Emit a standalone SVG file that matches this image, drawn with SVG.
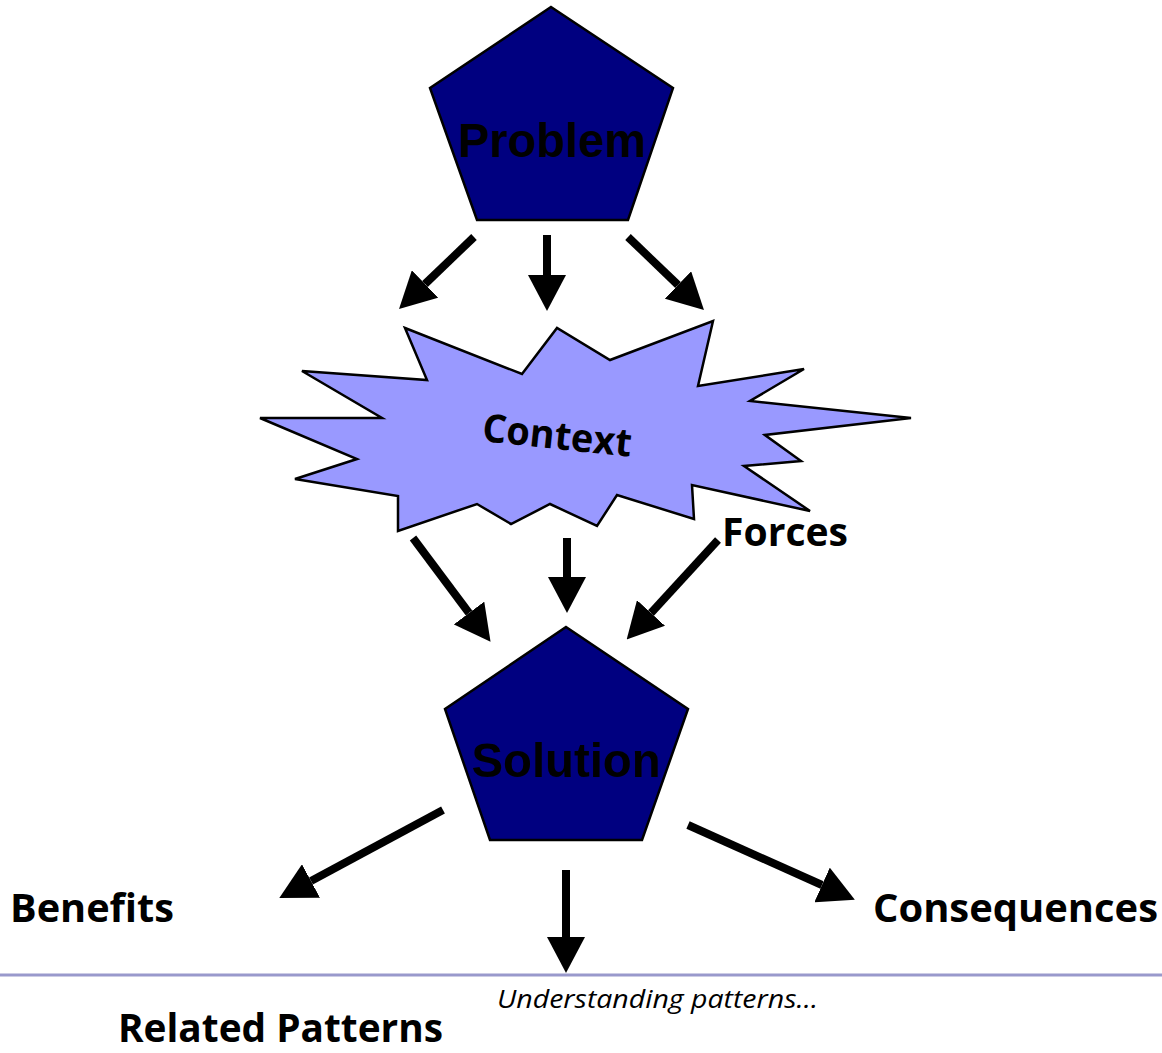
<svg xmlns="http://www.w3.org/2000/svg" width="1162" height="1053" viewBox="0 0 1162 1053">
  <style>
    .pent { fill: #000080; stroke: #000; stroke-width: 2.5; stroke-linejoin: miter; }
    .star { fill: #9999ff; stroke: #000; stroke-width: 2.5; stroke-linejoin: miter; }
    .arrow { stroke: #000; stroke-width: 8; fill: none; marker-end: url(#head); }
    .shape-label { font-family: "Liberation Sans", Arial, sans-serif; font-weight: bold; font-size: 49px; fill: #000; }
    .label { font-family: "Open Sans", "Noto Sans", sans-serif; font-weight: bold; font-size: 39px; fill: #000; }
    .note { font-family: "Open Sans", "Noto Sans", sans-serif; font-style: italic; font-size: 25px; fill: #000; }
  </style>
  <defs>
    <marker id="head" markerUnits="userSpaceOnUse" markerWidth="36" markerHeight="38" viewBox="0 0 36 38" refX="0" refY="19" orient="auto">
      <path d="M0,0 L36,19 L0,38 Z" fill="#000"/>
    </marker>
  </defs>

  <rect width="1162" height="1053" fill="#fff"/>

  <!-- Problem -->
  <g id="problem">
    <polygon class="pent" points="551,7 673,88 628,220 477,220 430,88"/>
    <text class="shape-label" x="552" y="157" text-anchor="middle" textLength="188" lengthAdjust="spacingAndGlyphs">Problem</text>
  </g>

  <!-- Context burst -->
  <g id="context">
    <polygon class="star" points="405,328 522,374 557,328 610,360 713,321 698,386 804,369 750,401 911,418 765,435 801,461 744,466 810,511 692,485 694,519 617,495 597,526 550,504 511,524 477,504 398,531 398,496 295,479 357,459 260,418 382,418 302,371 427,380"/>
    <text class="label" x="557" y="449" text-anchor="middle" font-size="38" textLength="150" lengthAdjust="spacingAndGlyphs" transform="rotate(6 557 437)">Context</text>
  </g>

  <!-- Forces -->
  <g id="forces">
    <text class="label" x="722" y="546" textLength="126" lengthAdjust="spacingAndGlyphs">Forces</text>
  </g>

  <!-- Solution -->
  <g id="solution">
    <polygon class="pent" points="566,627 688,709 642,840 490,840 445,709"/>
    <text class="shape-label" x="566" y="777" text-anchor="middle" textLength="189" lengthAdjust="spacingAndGlyphs">Solution</text>
  </g>

  <!-- Outcomes -->
  <g id="benefits">
    <text class="label" x="10" y="922" textLength="164" lengthAdjust="spacingAndGlyphs">Benefits</text>
  </g>
  <g id="consequences">
    <text class="label" x="873" y="922" textLength="285" lengthAdjust="spacingAndGlyphs">Consequences</text>
  </g>

  <!-- Divider -->
  <line x1="0" y1="975" x2="1162" y2="975" stroke="#9999cc" stroke-width="3"/>

  <g id="related-patterns">
    <text class="label" x="118" y="1042" font-size="42" textLength="325" lengthAdjust="spacingAndGlyphs">Related Patterns</text>
  </g>
  <g id="caption">
    <text class="note" x="497" y="1008" textLength="321" lengthAdjust="spacingAndGlyphs">Understanding patterns…</text>
  </g>

  <!-- Connectors -->
  <g id="connectors">
    <line class="arrow" x1="474" y1="237" x2="425" y2="284"/>
    <line class="arrow" x1="547" y1="235" x2="547" y2="275"/>
    <line class="arrow" x1="628" y1="237" x2="678" y2="285"/>
    <line class="arrow" x1="413" y1="538" x2="469" y2="613"/>
    <line class="arrow" x1="567" y1="538" x2="567" y2="577"/>
    <line class="arrow" x1="718" y1="540" x2="651" y2="613"/>
    <line class="arrow" x1="443" y1="810" x2="311" y2="881"/>
    <line class="arrow" x1="566" y1="870" x2="566" y2="937"/>
    <line class="arrow" x1="688" y1="825" x2="822" y2="885"/>
  </g>
</svg>
